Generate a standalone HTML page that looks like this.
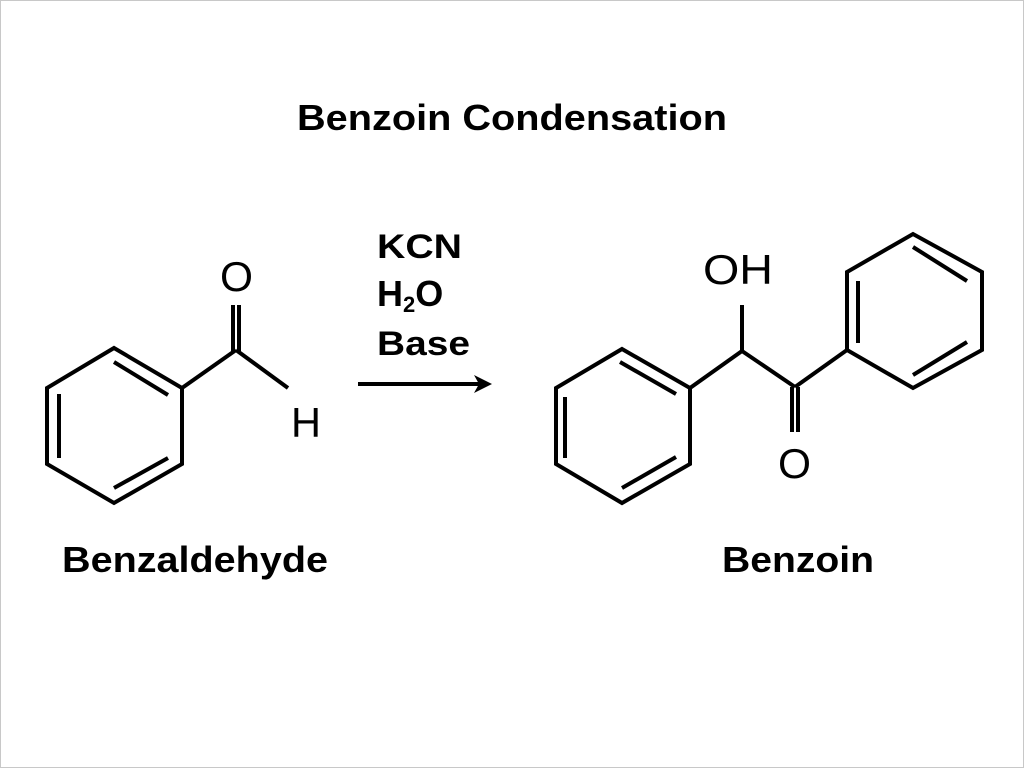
<!DOCTYPE html>
<html><head><meta charset="utf-8"><style>
html,body{margin:0;padding:0;background:#fff;}
#f{position:relative;width:1022px;height:766px;border:1px solid #c8c8c8;overflow:hidden;}
svg{position:absolute;left:-1px;top:-1px;}
</style></head><body><div id="f">
<svg width="1024" height="768" viewBox="0 0 1024 768" font-family="Liberation Sans, Arial, sans-serif">
<g stroke="#000" stroke-width="4" fill="none" stroke-linejoin="miter" stroke-linecap="butt">
<polygon points="114,348 182,388 182,464 114,503 47,464 47,388"/>
<line x1="114" y1="362" x2="168" y2="395"/>
<line x1="59" y1="394" x2="59" y2="458"/>
<line x1="168" y1="458" x2="114" y2="488"/>
<line x1="182" y1="388" x2="236" y2="350"/>
<line x1="236" y1="350" x2="288" y2="388"/>
<line x1="233" y1="305" x2="233" y2="351"/>
<line x1="239" y1="305" x2="239" y2="351"/>
<line x1="358" y1="384" x2="480" y2="384"/>
<polygon points="622,349 690,388 690,464 622,503 556,464 556,388"/>
<line x1="620" y1="362" x2="676" y2="394"/>
<line x1="565" y1="397" x2="565" y2="458"/>
<line x1="676" y1="457" x2="622" y2="488"/>
<line x1="690" y1="388" x2="742" y2="351"/>
<line x1="742" y1="351" x2="742" y2="305"/>
<line x1="742" y1="351" x2="795" y2="387"/>
<line x1="795" y1="387" x2="847" y2="350"/>
<line x1="792" y1="387" x2="792" y2="432"/>
<line x1="798" y1="387" x2="798" y2="432"/>
<polygon points="847,350 847,272 913,234 982,272 982,350 913,388"/>
<line x1="858" y1="281" x2="858" y2="343"/>
<line x1="913" y1="247" x2="967" y2="281"/>
<line x1="967" y1="342" x2="913" y2="375"/>
</g>
<polygon points="492,384 474,375 479,384 474,393" fill="#000"/>
<g font-size="42" fill="#000">
<text x="220" y="291" textLength="33" lengthAdjust="spacingAndGlyphs">O</text>
<text x="291" y="437" textLength="30" lengthAdjust="spacingAndGlyphs">H</text>
<text x="703" y="284" textLength="70" lengthAdjust="spacingAndGlyphs">OH</text>
<text x="778" y="478" textLength="33" lengthAdjust="spacingAndGlyphs">O</text>
</g>
<g font-weight="bold" fill="#000">
<text x="297" y="130" font-size="36" textLength="430" lengthAdjust="spacingAndGlyphs">Benzoin Condensation</text>
<text x="62" y="572" font-size="36" textLength="266" lengthAdjust="spacingAndGlyphs">Benzaldehyde</text>
<text x="722" y="572" font-size="36" textLength="152" lengthAdjust="spacingAndGlyphs">Benzoin</text>
<text x="377" y="258" font-size="34" textLength="85" lengthAdjust="spacingAndGlyphs">KCN</text>
<text x="377" y="306" font-size="36">H<tspan font-size="22" dy="6">2</tspan><tspan dy="-6">O</tspan></text>
<text x="377" y="355" font-size="34" textLength="93" lengthAdjust="spacingAndGlyphs">Base</text>
</g>
</svg>
</div></body></html>
